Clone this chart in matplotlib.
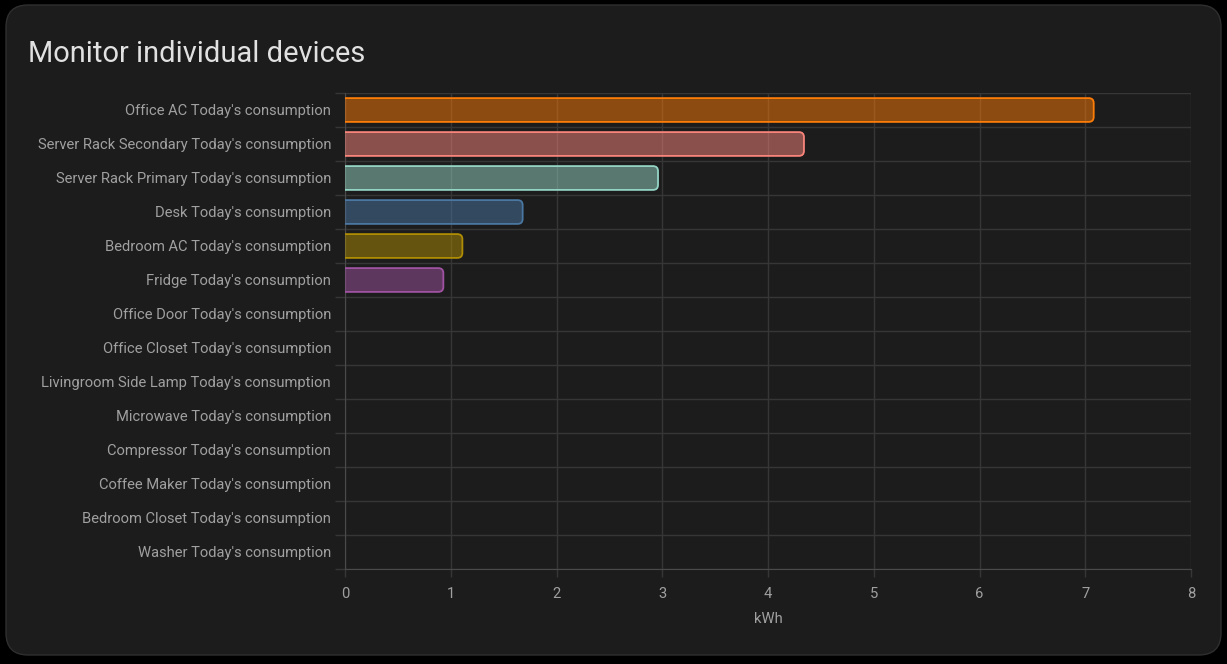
import matplotlib
matplotlib.use("Agg")
import matplotlib.pyplot as plt
from matplotlib.patches import FancyBboxPatch, PathPatch
from matplotlib.path import Path
from matplotlib.colors import to_rgba

categories = [
    "Office AC Today's consumption",
    "Server Rack Secondary Today's consumption",
    "Server Rack Primary Today's consumption",
    "Desk Today's consumption",
    "Bedroom AC Today's consumption",
    "Fridge Today's consumption",
    "Office Door Today's consumption",
    "Office Closet Today's consumption",
    "Livingroom Side Lamp Today's consumption",
    "Microwave Today's consumption",
    "Compressor Today's consumption",
    "Coffee Maker Today's consumption",
    "Bedroom Closet Today's consumption",
    "Washer Today's consumption",
]
values = [7.08, 4.34, 2.96, 1.68, 1.11, 0.93, 0, 0, 0, 0, 0, 0, 0, 0]
colors = ["#fc7c08", "#f8847c", "#94d4c4", "#4a76a2", "#ae8c04", "#a052a2",
          "#fc7c08", "#f8847c", "#94d4c4", "#4a76a2", "#ae8c04", "#a052a2",
          "#fc7c08", "#f8847c"]
xticks = [0, 1, 2, 3, 4, 5, 6, 7, 8]
title = "Monitor individual devices"
xlabel = "kWh"

plt.rcParams['font.family'] = ['Roboto', 'DejaVu Sans']

W, H = 1227, 664
fig = plt.figure(figsize=(W / 100, H / 100), dpi=100)
fig.patch.set_facecolor("#000000")

card = FancyBboxPatch((6 / W, 1 - 655 / H), (1221 - 6) / W, (655 - 5) / H,
                      boxstyle="round,pad=0,rounding_size=0.018",
                      mutation_aspect=W / H,
                      transform=fig.transFigure, facecolor="#1c1c1c",
                      edgecolor="#2f2f2f", linewidth=1.0, zorder=-10)
fig.patches.append(card)

fig.text(28 / W, 1 - 54 / H, title, color="#e1e1e1", fontsize=20.9,
         va="center", ha="left")

ax = fig.add_axes([345 / W, 1 - 569 / H, (1191 - 345) / W, (569 - 93) / H])
ax.set_zorder(1)
ax.set_facecolor("none")
n = len(categories)
ax.set_xlim(0, 8)
ax.set_ylim(n - 0.5, -0.5)

grid_c = "#363636"
ax.set_xticks(xticks)
ax.set_xticklabels([str(t) for t in xticks])
ax.set_yticks(range(n))
ax.set_yticklabels(categories)
ax.set_yticks([i - 0.5 for i in range(n + 1)], minor=True)
ax.tick_params(axis="y", which="major", length=0, pad=10, labelcolor="#a0a0a0",
               labelsize=10.65)
ax.tick_params(axis="y", which="minor", length=7.5, color=grid_c, width=1)
ax.tick_params(axis="x", which="major", length=6, color=grid_c, width=1,
               labelcolor="#a0a0a0", labelsize=10.65, pad=7)
ax.grid(True, axis="x", which="major", color=grid_c, linewidth=1)
ax.grid(True, axis="y", which="minor", color=grid_c, linewidth=1)
ax.set_axisbelow(True)
for s in ["top", "right"]:
    ax.spines[s].set_visible(False)
ax.spines["left"].set_color("#4a4a4a")
ax.spines["bottom"].set_color("#4a4a4a")
ax.set_xlabel(xlabel, color="#a0a0a0", fontsize=10.65, labelpad=8)

# pixel scale for corner rounding
px_x = (1191 - 345) / 8.0
px_y = (569 - 93) / n
r = 5.0
rx, ry = r / px_x, r / px_y
bh = 0.7
for i, (v, c) in enumerate(zip(values, colors)):
    if v <= 0:
        continue
    y0, y1 = i - bh / 2, i + bh / 2
    rxx = min(rx, v / 2)
    verts = [(0, y0), (v - rxx, y0), (v, y0), (v, y0 + ry), (v, y1 - ry),
             (v, y1), (v - rxx, y1), (0, y1)]
    codes = [Path.MOVETO, Path.LINETO, Path.CURVE3, Path.CURVE3, Path.LINETO,
             Path.CURVE3, Path.CURVE3, Path.LINETO]
    fill = PathPatch(Path(verts + [(0, y0)], codes + [Path.CLOSEPOLY]),
                     facecolor=to_rgba(c, 0.5), edgecolor="none", zorder=3)
    ax.add_patch(fill)
    stroke = PathPatch(Path(verts, codes), facecolor="none", edgecolor=c,
                       linewidth=1.3, zorder=4)
    ax.add_patch(stroke)

fig.savefig("out.png", dpi=100, facecolor=fig.get_facecolor())
